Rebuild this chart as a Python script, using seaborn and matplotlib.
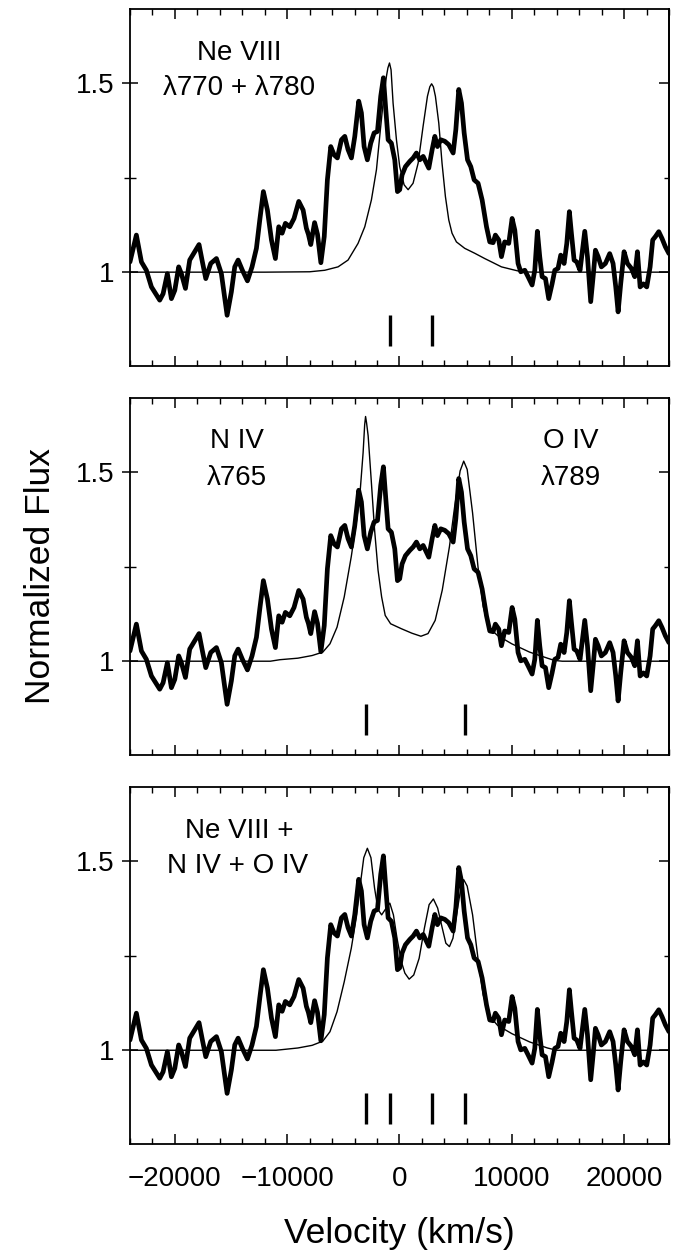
import matplotlib
matplotlib.use('Agg')
import matplotlib.pyplot as plt
import seaborn as sns
from matplotlib.ticker import MultipleLocator, FuncFormatter

# observed spectrum (thick line), the same in every panel
velocity = [-24000, -23430, -22980, -22540, -22090, -21350, -21050, -20670, -20310, -20010,
            -19660, -19420, -19060, -18680, -18230, -17850, -17550, -17250, -16810, -16300,
            -15860, -15350, -14970, -14670, -14370, -13990, -13540, -13130, -12740, -12440,
            -12120, -11760, -11400, -11050, -10750, -10450, -10160, -9770, -9390, -8970,
            -8580, -8290, -8110, -7900, -7560, -7300, -7000, -6700, -6420, -6120,
            -5820, -5530, -5170, -4870, -4580, -4280, -3980, -3630, -3390, -3150,
            -2860, -2560, -2260, -1960, -1670, -1430, -1220, -1010, -720, -420,
            -180, 20, 230, 530, 920, 1220, 1510, 1810, 2110, 2400,
            2610, 2910, 3150, 3380, 3680, 4040, 4390, 4780, 5020, 5280,
            5520, 5760, 6060, 6350, 6650, 7000, 7360, 7750, 8040, 8340,
            8540, 8840, 9080, 9370, 9730, 10030, 10270, 10560, 10800, 11160,
            11450, 11810, 12050, 12280, 12490, 12700, 13000, 13290, 13590, 13830,
            14120, 14360, 14660, 14900, 15130, 15310, 15550, 15790, 16080, 16500,
            16740, 17030, 17270, 17450, 17690, 17980, 18340, 18720, 19020, 19260,
            19470, 19700, 20000, 20300, 20650, 20950, 21190, 21430, 21720, 22020,
            22320, 22550, 22790, 23090, 23380, 23680, 24000]
flux = [1.027, 1.098, 1.027, 1.005, 0.961, 0.926, 0.943, 0.996, 0.930, 0.952,
        1.014, 0.996, 0.957, 1.032, 1.054, 1.073, 1.027, 0.983, 1.023, 1.036,
        0.996, 0.886, 0.948, 1.014, 1.032, 1.005, 0.977, 1.014, 1.063, 1.138,
        1.213, 1.164, 1.085, 1.036, 1.120, 1.103, 1.129, 1.120, 1.142, 1.187,
        1.164, 1.116, 1.100, 1.073, 1.131, 1.100, 1.025, 1.094, 1.244, 1.332,
        1.310, 1.302, 1.350, 1.359, 1.324, 1.302, 1.359, 1.452, 1.421, 1.332,
        1.297, 1.341, 1.368, 1.372, 1.465, 1.514, 1.430, 1.350, 1.341, 1.297,
        1.213, 1.218, 1.257, 1.279, 1.293, 1.302, 1.315, 1.297, 1.306, 1.288,
        1.275, 1.324, 1.359, 1.332, 1.350, 1.346, 1.337, 1.315, 1.377, 1.483,
        1.447, 1.368, 1.297, 1.279, 1.244, 1.235, 1.191, 1.120, 1.080, 1.078,
        1.098, 1.085, 1.041, 1.080, 1.076, 1.142, 1.111, 1.023, 1.001, 1.005,
        0.988, 0.966, 1.005, 1.108, 1.041, 0.988, 0.983, 0.930, 0.969, 1.005,
        1.010, 1.045, 1.023, 1.076, 1.160, 1.103, 1.032, 1.027, 1.005, 1.108,
        1.041, 0.922, 0.996, 1.058, 1.041, 1.014, 1.023, 1.049, 1.023, 0.961,
        0.895, 0.969, 1.054, 1.023, 1.010, 0.988, 1.054, 0.961, 0.969, 0.961,
        1.014, 1.085, 1.094, 1.107, 1.089, 1.067, 1.049]

# model profiles (thin lines)
ne8_vel = [-24000, -12000, -8000, -6650, -5470, -4580, -3690, -3090, -2500, -2050,
           -1760, -1460, -1160, -1030, -890, -750, -570, -270, 20, 410,
           770, 1210, 1660, 2100, 2490, 2700, 2860, 3020, 3200, 3500,
           3790, 4090, 4390, 4680, 5070, 5810, 6700, 7590, 8340, 9080,
           10030, 10860, 12000, 24000]
ne8_flux = [1.000, 1.000, 1.001, 1.005, 1.014, 1.032, 1.076, 1.120, 1.191, 1.271,
            1.359, 1.447, 1.518, 1.540, 1.553, 1.535, 1.447, 1.350, 1.279, 1.231,
            1.218, 1.235, 1.288, 1.385, 1.465, 1.490, 1.498, 1.490, 1.465, 1.394,
            1.288, 1.200, 1.138, 1.103, 1.080, 1.063, 1.050, 1.036, 1.025, 1.014,
            1.007, 1.001, 1.000, 1.000]

no_vel = [-24000, -11500, -10640, -9050, -7780, -6830, -6190, -5560, -4920, -4290,
          -3810, -3490, -3240, -3100, -3020, -2930, -2790, -2540, -2220, -1910,
          -1590, -1270, -790, 160, 1110, 1910, 2540, 3180, 3810, 4450,
          4920, 5400, 5720, 6030, 6510, 6990, 7460, 7940, 8730, 10000,
          11590, 13180, 13810, 14500, 24000]
no_flux = [1.000, 1.000, 1.004, 1.008, 1.015, 1.024, 1.046, 1.090, 1.170, 1.277,
           1.374, 1.454, 1.551, 1.625, 1.647, 1.630, 1.596, 1.489, 1.348, 1.241,
           1.170, 1.121, 1.099, 1.086, 1.074, 1.066, 1.073, 1.108, 1.188, 1.303,
           1.410, 1.503, 1.529, 1.507, 1.392, 1.250, 1.144, 1.090, 1.068, 1.046,
           1.024, 1.008, 1.002, 1.000, 1.000]

all_vel = [-24000, -11000, -9050, -7780, -6830, -6190, -5560, -4920, -4290, -3810,
           -3490, -3180, -2860, -2540, -2220, -1910, -1590, -1180, -860, -540,
           -220, 160, 480, 860, 1270, 1750, 2220, 2640, 3020, 3400,
           3810, 4130, 4450, 4760, 5180, 5490, 5720, 6030, 6510, 6990,
           7460, 7940, 8730, 10000, 11590, 13180, 14000, 24000]
all_flux = [1.000, 1.000, 1.006, 1.013, 1.024, 1.049, 1.102, 1.181, 1.270, 1.358,
            1.438, 1.509, 1.534, 1.509, 1.429, 1.372, 1.358, 1.376, 1.389, 1.358,
            1.296, 1.235, 1.204, 1.188, 1.199, 1.243, 1.323, 1.385, 1.400, 1.376,
            1.323, 1.283, 1.274, 1.296, 1.376, 1.434, 1.451, 1.434, 1.358, 1.243,
            1.146, 1.093, 1.066, 1.044, 1.022, 1.006, 1.000, 1.000]

# line positions marked below the spectrum
ne8_marks = [-880, 2920]
no_marks = [-2990, 5820]

sns.set_theme(style='white', rc={'axes.edgecolor': 'black', 'xtick.color': 'black',
                                 'ytick.color': 'black', 'text.color': 'black'})
plt.rcParams['font.family'] = ['Liberation Sans', 'DejaVu Sans']

fig = plt.figure(figsize=(6.78, 12.55), dpi=100)

panels = [
    (0.7084, ne8_vel, ne8_flux, ne8_marks,
     [('Ne VIII', -14300, 1.580), ('λ770 + λ780', -14300, 1.487)]),
    (0.3984, no_vel, no_flux, no_marks,
     [('N IV', -14450, 1.582), ('λ765', -14450, 1.485),
      ('O IV', 15240, 1.582), ('λ789', 15240, 1.485)]),
    (0.0884, all_vel, all_flux, sorted(ne8_marks + no_marks),
     [('Ne VIII +', -14300, 1.580), ('N IV + O IV', -14450, 1.487)]),
]

for i, (bottom, mv, mf, marks, labels) in enumerate(panels):
    ax = fig.add_axes([0.1917, bottom, 0.795, 0.2845])
    sns.lineplot(x=velocity, y=flux, ax=ax, color='black', lw=3.4,
                 estimator=None, sort=False, solid_joinstyle='round')
    sns.lineplot(x=mv, y=mf, ax=ax, color='black', lw=1.0,
                 estimator=None, sort=False)
    ax.vlines(marks, 0.805, 0.888, color='black', lw=2.4)
    for txt, x, y in labels:
        ax.text(x, y, txt, ha='center', va='center', fontsize=20)

    ax.set_xlim(-24000, 24000)
    ax.set_ylim(0.752, 1.696)
    ax.set_xlabel('')
    ax.set_ylabel('')
    for sp in ax.spines.values():
        sp.set_linewidth(1.3)

    ax.xaxis.set_major_locator(MultipleLocator(10000))
    ax.xaxis.set_minor_locator(MultipleLocator(2000))
    ax.yaxis.set_major_locator(MultipleLocator(0.5))
    ax.yaxis.set_minor_locator(MultipleLocator(0.25))
    ax.yaxis.set_major_formatter(FuncFormatter(lambda v, p: f'{v:g}'))

    ax.tick_params(axis='x', which='both', direction='in', top=True, bottom=True,
                   labelsize=20, pad=16)
    ax.tick_params(axis='x', which='major', length=7, width=1.1)
    ax.tick_params(axis='x', which='minor', length=4, width=1.0)
    ax.tick_params(axis='y', which='both', direction='inout', left=True, right=False,
                   labelsize=20, pad=5)
    ax.tick_params(axis='y', which='major', length=12, width=1.1)
    ax.tick_params(axis='y', which='minor', length=8, width=1.0)
    if i < 2:
        ax.tick_params(axis='x', labelbottom=False)

    sec = ax.secondary_yaxis('right')
    sec.yaxis.set_major_locator(MultipleLocator(0.5))
    sec.yaxis.set_minor_locator(MultipleLocator(0.25))
    sec.tick_params(axis='y', which='both', direction='in', labelright=False)
    sec.tick_params(axis='y', which='major', length=7, width=1.1)
    sec.tick_params(axis='y', which='minor', length=3.6, width=1.0)
    sec.spines['right'].set_linewidth(1.3)

fig.text(0.059, 0.541, 'Normalized Flux', rotation=90, ha='center', va='center',
         fontsize=25.5)
fig.text(0.589, 0.0175, 'Velocity (km/s)', ha='center', va='center', fontsize=25.5)

fig.savefig('out.png', dpi=100)
